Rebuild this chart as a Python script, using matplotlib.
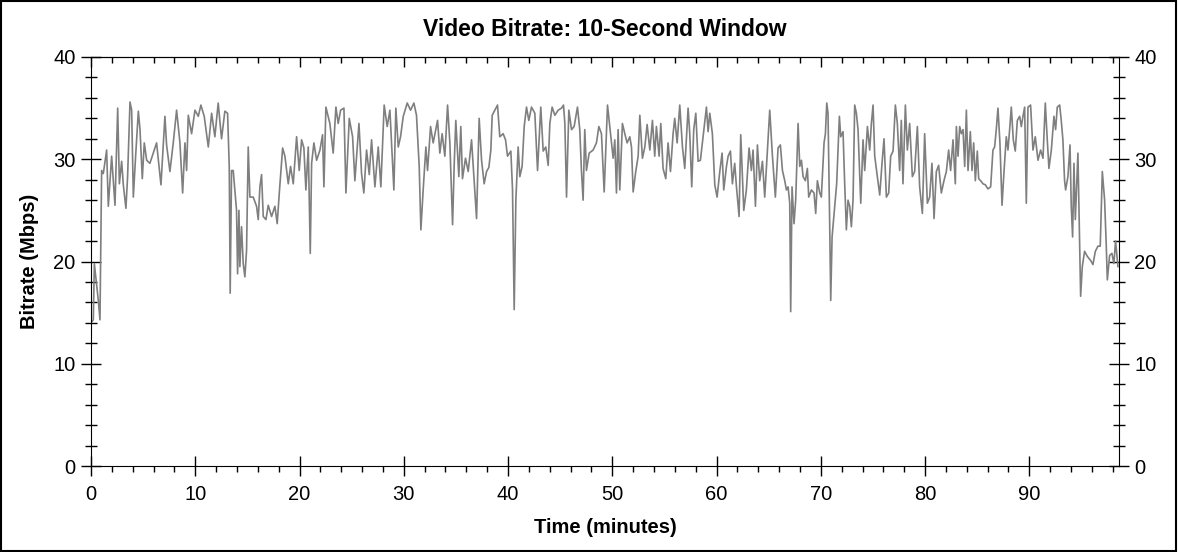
import matplotlib
matplotlib.use("Agg")
import matplotlib.pyplot as plt
from matplotlib.ticker import MultipleLocator
from matplotlib.patches import Rectangle

plt.rcParams['font.family'] = ['Liberation Sans', 'DejaVu Sans']

# time (minutes) and 10-second-window bitrate (Mbps)
minutes = [
    0.00, 0.22, 0.32, 0.70, 0.86, 1.02, 1.18, 1.50, 1.66, 1.98, 2.30, 2.56, 2.72, 2.94,
    3.10, 3.35, 3.51, 3.74, 3.90, 4.06, 4.28, 4.54, 4.70, 4.92, 5.11, 5.34, 5.65, 5.97,
    6.29, 6.71, 7.09, 7.25, 7.57, 7.89, 8.21, 8.53, 8.79, 9.01, 9.17, 9.33, 9.65, 9.97,
    10.29, 10.54, 10.86, 11.25, 11.57, 11.88, 12.20, 12.52, 12.84, 13.10, 13.26, 13.35,
    13.48, 13.64, 13.80, 13.96, 14.06, 14.19, 14.28, 14.44, 14.60, 14.76, 14.92, 15.08,
    15.24, 15.56, 15.88, 16.04, 16.20, 16.36,
    16.52, 16.78, 17.00, 17.32, 17.64, 17.86, 18.06, 18.38, 18.60, 18.92, 19.14, 19.40,
    19.72, 19.97, 20.20, 20.42, 20.61, 20.84, 21.03, 21.16, 21.38, 21.64, 21.96, 22.21,
    22.34, 22.53, 22.91, 23.23, 23.49, 23.71, 23.94, 24.26, 24.45, 24.77, 25.09, 25.31,
    25.70, 25.95, 26.17, 26.43, 26.69, 26.91, 27.23, 27.55, 27.80, 28.12, 28.41, 28.67,
    28.83, 29.05, 29.24, 29.47, 29.69, 29.95, 30.33, 30.65, 30.97, 31.22, 31.48, 31.64,
    31.86, 32.12, 32.28, 32.57, 32.82,
    33.24, 33.46, 33.68, 33.94, 34.20, 34.42, 34.68, 34.84, 34.99, 35.28, 35.47, 35.63,
    35.92, 36.18, 36.50, 36.75, 36.98, 37.23, 37.46, 37.71, 37.94, 38.16, 38.35, 38.48,
    38.73, 38.99, 39.21, 39.53, 39.76, 39.95, 40.27, 40.43, 40.59, 40.75, 40.97, 41.13,
    41.35, 41.55, 41.77, 41.99, 42.25, 42.57, 42.83, 43.14, 43.37, 43.62, 43.85, 44.01,
    44.23, 44.49, 44.81, 45.13, 45.32, 45.45, 45.61, 45.83, 46.09, 46.34, 46.66, 46.88,
    47.04, 47.20, 47.36, 47.52, 47.78, 48.16, 48.48, 48.71, 48.96, 49.22, 49.54, 49.76,
    50.08, 50.24, 50.40, 50.56, 50.72, 50.97, 51.20, 51.42, 51.68, 51.84, 52.00, 52.25,
    52.48, 52.64, 52.89, 53.12, 53.34, 53.60, 53.85, 54.07, 54.23, 54.49, 54.65, 54.87,
    55.13, 55.35, 55.58, 55.83, 55.99, 56.22, 56.47, 56.73, 56.95, 57.27, 57.43, 57.62,
    57.81, 58.01, 58.23, 58.45, 58.71, 59.03, 59.19, 59.35, 59.60, 59.83, 60.05, 60.31,
    60.53, 60.69, 60.95, 61.11, 61.33, 61.52, 61.74, 61.91, 62.16, 62.32, 62.61, 62.86,
    63.12, 63.34, 63.50, 63.73, 63.92, 64.14, 64.40, 64.62, 64.85, 65.10, 65.36, 65.64,
    65.90, 66.12, 66.32, 66.54,
    66.70, 66.86, 67.02, 67.11, 67.24, 67.43, 67.59, 67.82, 67.98, 68.14, 68.30, 68.52,
    68.71, 68.84, 69.10, 69.35, 69.51, 69.67, 69.90, 70.05, 70.31, 70.44, 70.57, 70.69,
    70.85, 70.95, 71.08, 71.33, 71.52, 71.78, 71.91, 72.13, 72.29, 72.45, 72.61, 72.77,
    72.93, 73.09, 73.25, 73.41, 73.57, 73.83, 74.05, 74.21, 74.47, 74.69, 74.85, 75.01,
    75.17, 75.42, 75.65, 75.87, 76.06, 76.29, 76.51, 76.70, 76.93, 77.15, 77.34, 77.56,
    77.72, 77.88, 78.11, 78.30, 78.52, 78.78, 79.00, 79.26, 79.48, 79.74, 79.96, 80.22,
    80.44, 80.66, 80.86, 81.08, 81.30, 81.56, 81.81, 82.04, 82.26, 82.45, 82.68, 82.90,
    83.00, 83.16, 83.32, 83.48, 83.64, 83.80, 83.96, 84.12, 84.34, 84.50, 84.66, 84.82,
    85.01, 85.14, 85.33, 85.55, 85.78, 86.03, 86.29, 86.51, 86.67, 86.83, 86.99, 87.18,
    87.38, 87.57, 87.79, 87.95, 88.11, 88.27, 88.46, 88.65, 88.85, 89.07, 89.23, 89.39,
    89.55, 89.71, 89.87, 90.12, 90.35, 90.57, 90.83, 91.08, 91.31, 91.53, 91.72, 91.88,
    92.11, 92.36, 92.52, 92.68, 92.91, 93.06, 93.22, 93.38, 93.48, 93.70, 93.90, 94.02,
    94.15, 94.28, 94.41, 94.66, 94.79, 94.92, 95.08, 95.30, 95.56, 95.88, 96.10, 96.33,
    96.58, 96.80, 97.00, 97.22, 97.38, 97.48, 97.70, 97.92, 98.11, 98.27, 98.50,
]
bitrate = [
    14.0, 14.3, 19.8, 16.2, 14.3, 28.9, 28.6, 30.9, 25.4, 30.3, 25.5, 35.0, 27.6, 29.8,
    27.5, 25.2, 28.3, 35.6, 34.8, 26.3, 30.3, 34.7, 32.9, 28.1, 31.6, 29.9, 29.6, 30.6,
    31.6, 27.5, 34.2, 31.4, 28.8, 31.6, 34.8, 31.6, 26.7, 31.6, 28.9, 34.3, 32.5, 34.8,
    34.2, 35.3, 34.2, 31.2, 34.5, 32.2, 35.5, 32.0, 34.7, 34.5, 29.3, 16.9,
    28.9, 28.9, 27.0, 25.0, 18.8, 25.0, 19.5, 23.4, 19.8, 18.5, 21.1, 31.2,
    26.3, 26.3, 25.4, 24.1, 27.3, 28.5,
    24.4, 24.1, 25.5, 24.4, 25.4, 23.7, 26.7, 31.1, 30.3, 27.6, 29.3, 27.6,
    32.2, 28.9, 31.9, 31.1, 27.0, 31.2, 20.8, 29.6, 31.6, 29.9, 30.9, 32.4,
    27.3, 35.1, 33.5, 30.6, 35.1, 33.5, 34.8, 35.0, 26.7, 34.0, 32.2, 27.9,
    33.5, 28.6, 26.7, 30.9, 28.5, 31.9, 27.3, 31.2, 27.3, 35.3, 33.2, 34.8,
    31.6, 27.0, 35.0, 31.2, 32.2, 34.2, 35.5, 34.8, 35.5, 34.3, 29.3, 23.1,
    27.0, 31.2, 28.9, 33.2, 31.6,
    33.8, 30.6, 32.5, 30.3, 35.3, 31.6, 23.6, 29.6, 33.8, 28.3, 33.2, 28.1,
    30.1, 28.8, 31.9, 27.9, 24.2, 34.0, 29.9, 27.6, 28.8, 29.2, 30.9, 34.3,
    34.8, 35.3, 32.2, 32.5, 31.9, 30.3, 30.8, 27.0, 15.3, 26.0, 31.2, 28.3,
    29.3, 33.2, 35.1, 33.8, 35.1, 34.5, 28.9, 35.1, 30.8, 31.2, 29.4, 33.5,
    35.1, 34.3, 34.8, 35.0, 35.3, 33.5, 26.3, 34.8, 32.9, 33.2, 35.1, 32.9,
    28.9, 26.0, 32.9, 28.9, 30.6, 30.9, 31.6, 33.2, 32.5, 26.8, 35.3, 33.2,
    30.1, 31.9, 26.7, 32.9, 27.0, 33.5, 32.5, 31.6, 32.2, 31.2, 26.8, 28.8,
    30.3, 34.3, 30.1, 31.2, 33.4, 30.9, 33.8, 30.3, 33.2, 30.3, 33.5, 29.1,
    28.1, 31.6, 28.8, 32.5, 34.0, 31.6, 35.3, 31.2, 29.1, 35.0, 32.5, 27.3,
    32.9, 34.5, 29.8, 29.9, 32.2, 35.1, 32.7, 34.5, 32.5, 27.5, 26.3, 28.8,
    30.6, 27.0, 29.3, 30.3, 30.8, 27.6, 29.6, 27.3, 24.4, 32.4, 25.0, 27.0,
    31.1, 28.9, 30.9, 25.4, 31.4, 27.9, 29.8, 26.3, 30.3, 34.8, 30.3, 26.3,
    31.1, 31.4, 28.9, 27.9,
    27.0, 27.3, 25.7, 15.1, 27.3, 23.7, 26.0, 33.5, 29.3, 29.9, 28.3, 27.9,
    29.1, 26.3, 27.0, 26.7, 24.7, 27.9, 26.7, 26.3, 31.6, 32.5, 35.5, 34.5,
    23.7, 16.2, 22.4, 25.4, 27.6, 34.2, 32.2, 32.7, 27.6, 23.1, 26.0, 25.4,
    23.4, 26.0, 35.3, 34.5, 32.9, 25.7, 31.9, 28.9, 33.2, 30.9, 33.5, 35.3,
    30.3, 28.3, 26.5, 29.6, 32.0, 26.3, 26.7, 30.3, 30.8, 35.3, 33.5, 28.9,
    33.8, 27.6, 35.3, 30.9, 33.5, 28.3, 28.8, 33.2, 27.3, 24.7, 32.5, 25.7,
    26.3, 29.6, 24.2, 28.8, 29.4, 26.7, 27.9, 28.8, 30.9, 28.9, 31.9, 27.6,
    33.2, 30.3, 33.2, 32.5, 32.9, 29.3, 34.8, 28.9, 32.7, 28.9, 31.6, 27.9,
    30.8, 28.1, 27.9, 27.6, 27.5, 27.1, 27.3, 30.9, 31.2, 32.9, 35.0, 31.6,
    25.5, 28.8, 32.2, 30.9, 32.9, 35.1, 31.9, 30.8, 33.8, 34.2, 33.2, 34.2,
    35.1, 25.7, 35.1, 35.3, 30.9, 32.2, 29.9, 30.9, 30.1, 35.5, 31.9, 29.1,
    30.9, 34.2, 32.9, 35.1, 35.3, 33.8, 31.9, 27.9, 27.0, 28.3, 31.4, 25.4,
    22.4, 29.6, 24.1, 30.6, 23.7, 16.6, 19.5, 21.0, 20.5, 20.1, 19.7, 21.0,
    21.5, 21.5, 28.8, 26.0, 21.5, 18.2, 20.6, 20.8, 19.8, 22.0, 19.5,
]

x_max = 98.6
y_max = 40

fig = plt.figure(figsize=(11.78, 5.52), dpi=100)
ax = fig.add_axes([91 / 1178, 1 - 466 / 552, (1119 - 91) / 1178, (466 - 57) / 552])

ax.plot(minutes, bitrate, color='#7f7f7f', lw=1.2)

ax.set_xlim(0, x_max)
ax.set_ylim(0, y_max)

ax.xaxis.set_major_locator(MultipleLocator(10))
ax.xaxis.set_minor_locator(MultipleLocator(2))
ax.yaxis.set_major_locator(MultipleLocator(10))
ax.yaxis.set_minor_locator(MultipleLocator(2))

ax.tick_params(axis='x', which='major', direction='inout', length=14, width=1,
               labelsize=14.5, pad=7)
ax.tick_params(axis='x', which='minor', direction='out', length=4, width=1)
ax.tick_params(axis='y', which='major', direction='inout', length=14, width=1,
               labelsize=14.5, left=True, right=True, labelleft=True, labelright=True, pad=4)
ax.tick_params(axis='y', which='minor', direction='inout', length=8, width=1,
               left=True, right=True)

top = ax.secondary_xaxis('top')
top.xaxis.set_major_locator(MultipleLocator(10))
top.xaxis.set_minor_locator(MultipleLocator(2))
top.tick_params(which='major', direction='in', length=7, width=1, labeltop=False)
top.tick_params(which='minor', direction='in', length=4, width=1)

ax.set_title('Video Bitrate: 10-Second Window', fontsize=16.5, fontweight='bold', pad=15)
ax.set_xlabel('Time (minutes)', fontsize=14.5, fontweight='bold', labelpad=10)
ax.set_ylabel('Bitrate (Mbps)', fontsize=14.5, fontweight='bold', labelpad=10)

# thin frame round the whole picture
fig.patches.append(Rectangle((0.001, 0.002), 0.997, 0.996, transform=fig.transFigure,
                             fill=False, edgecolor='black', lw=1.5))

fig.savefig('out.png', dpi=100)
